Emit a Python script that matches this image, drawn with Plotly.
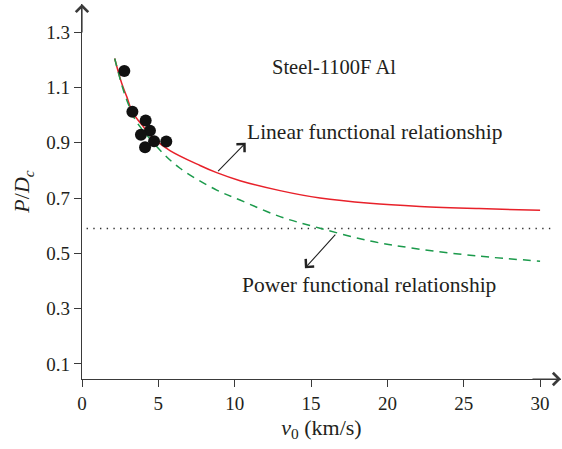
import plotly.graph_objects as go

# Measured points
pts_x = [2.77, 3.30, 4.17, 4.45, 3.86, 4.72, 5.52, 4.13]
pts_y = [1.16, 1.012, 0.981, 0.944, 0.929, 0.906, 0.905, 0.884]

# Linear functional relationship curve (red)
red_x = [2.14, 2.6, 2.93, 3.3, 4.02, 4.72, 5.76, 7.73, 8.82, 10.35, 12.97, 15.59, 18.86, 22.13, 26.0, 30.0]
red_y = [1.205, 1.115, 1.067, 1.012, 0.958, 0.915, 0.872, 0.818, 0.792, 0.763, 0.727, 0.700, 0.681, 0.670, 0.662, 0.656]

# Power functional relationship curve (green dashed)
green_x = [2.14, 2.6, 2.93, 3.3, 3.58, 5.1, 6.42, 8.82, 10.35, 12.97, 15.59, 18.86, 21.9, 26.0, 30.0]
green_y = [1.205, 1.11, 1.055, 1.005, 0.975, 0.874, 0.808, 0.729, 0.693, 0.633, 0.591, 0.545, 0.517, 0.49, 0.472]

# Horizontal dotted reference line
ref_x = [0.3, 31.0]
ref_y = [0.59, 0.59]

x_ticks = [0, 5, 10, 15, 20, 25, 30]
y_ticks = [0.1, 0.3, 0.5, 0.7, 0.9, 1.1, 1.3]

FONT = "Liberation Serif"
TXT = "#231f20"
AX = "#3a3a3a"
XMAX = 31.37
YMIN, YMAX = 0.0457, 1.402

fig = go.Figure()
fig.add_trace(go.Scatter(x=ref_x, y=ref_y, mode="lines",
                         line=dict(color="#333333", width=1.4, dash="1.4px,5.3px"),
                         showlegend=False, hoverinfo="skip"))
fig.add_trace(go.Scatter(x=red_x, y=red_y, mode="lines", line_shape="spline",
                         line=dict(color="#e8212a", width=1.5), showlegend=False))
fig.add_trace(go.Scatter(x=green_x, y=green_y, mode="lines", line_shape="spline",
                         line=dict(color="#1b9a4b", width=1.5, dash="8px,6px"), showlegend=False))
fig.add_trace(go.Scatter(x=pts_x, y=pts_y, mode="markers",
                         marker=dict(color="#111111", size=12), showlegend=False))

ann = []
# axis arrows (paper coordinates so they are never hidden)
ann.append(dict(x=0, y=1, ax=0, ay=30, xref="paper", yref="paper",
                showarrow=True, arrowhead=4, arrowsize=2, arrowwidth=1.2, arrowcolor=AX, text=""))
ann.append(dict(x=1, y=0, ax=-30, ay=0, xref="paper", yref="paper",
                showarrow=True, arrowhead=4, arrowsize=2, arrowwidth=1.2, arrowcolor=AX, text=""))
# pointer arrows
ann.append(dict(x=10.72, y=0.900, ax=8.82, ay=0.792, xref="x", yref="y", axref="x", ayref="y",
                showarrow=True, arrowhead=4, arrowsize=2, arrowwidth=1.1, arrowcolor="#222222", text=""))
ann.append(dict(x=14.6, y=0.446, ax=16.68, ay=0.573, xref="x", yref="y", axref="x", ayref="y",
                showarrow=True, arrowhead=4, arrowsize=2, arrowwidth=1.1, arrowcolor="#222222", text=""))
# texts
ann.append(dict(x=16.5, y=1.175, text="Steel-1100F Al", showarrow=False,
                font=dict(family=FONT, size=20.5, color=TXT)))
ann.append(dict(x=19.19, y=0.940, text="Linear functional relationship", showarrow=False,
                font=dict(family=FONT, size=21.5, color=TXT)))
ann.append(dict(x=18.8, y=0.386, text="Power functional relationship", showarrow=False,
                font=dict(family=FONT, size=21.5, color=TXT)))

fig.update_layout(
    width=562, height=449,
    margin=dict(l=82, r=1, t=4, b=70),
    paper_bgcolor="white", plot_bgcolor="white",
    font=dict(family=FONT, size=19, color=TXT),
    annotations=ann,
    xaxis=dict(range=[0, XMAX], tickvals=x_ticks, ticks="outside", ticklen=7, tickwidth=1.2,
               tickcolor=AX, showline=True, linecolor=AX, linewidth=1.2, showgrid=False,
               zeroline=False, tickfont=dict(size=19), automargin=False,
               title=dict(text="<i>v</i><sub>0</sub> (km/s)", font=dict(size=22), standoff=6)),
    yaxis=dict(range=[YMIN, YMAX], tickvals=y_ticks, tickformat=".1f", ticks="outside", ticklen=7,
               tickwidth=1.2, tickcolor=AX, showline=True, linecolor=AX, linewidth=1.2,
               showgrid=False, zeroline=False, tickfont=dict(size=19), automargin=False,
               title=dict(text="<i>P</i>/<i>D</i><sub><i>c</i></sub>", font=dict(size=22), standoff=10)),
)

fig.write_html("out.html", config={"displayModeBar": False},
               post_script="document.body.style.margin='0';")
